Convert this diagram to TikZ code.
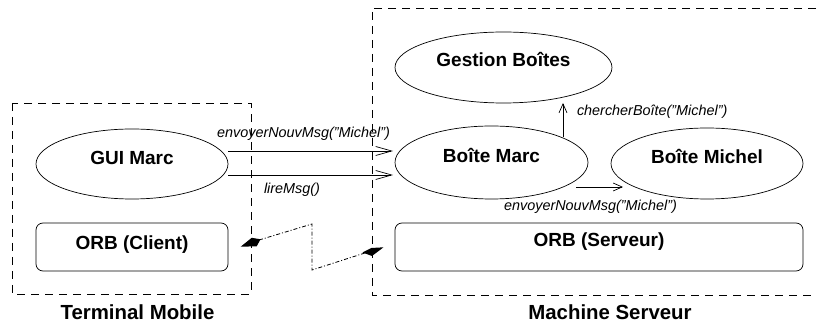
\documentclass[tikz,border=0pt]{standalone}
\usepackage{fontspec}
\setmainfont{Liberation Sans}
\usetikzlibrary{shapes.geometric,arrows.meta}
\newcommand\dq{\char34\relax}
\begin{document}
\begin{tikzpicture}[x=1pt,y=-1pt,
  every node/.style={inner sep=0pt,outer sep=0pt},
  comp/.style={draw,line width=0.7pt,ellipse,minimum width=#1,text height=13.6pt,font=\fontsize{19}{21}\selectfont\bfseries},
  orb/.style={draw,line width=0.7pt,rounded corners=7pt,minimum height=48pt,text height=13.6pt,font=\fontsize{19}{21}\selectfont\bfseries},
  zone/.style={draw,line width=0.7pt,dash pattern=on 8pt off 6pt},
  ztitle/.style={font=\fontsize{20.4}{22}\selectfont\bfseries},
  msg/.style={font=\fontsize{14.4}{16}\selectfont\itshape},
  call/.style={draw,line width=0.7pt},
  bigtip/.style={-{Straight Barb[length=16pt,width=9pt,line width=0.7pt]}},
  smalltip/.style={-{Straight Barb[length=9pt,width=8pt,line width=0.7pt]}},
  net/.style={draw,line width=0.8pt,dash pattern=on 4pt off 2pt on 1pt off 2pt}
]
\useasboundingbox (0,0) rectangle (817,328);
% zones
\draw[zone] (12,103) rectangle (251,294);
\draw[zone] (830,8) -- (372,8) -- (372,295) -- (830,295);
\node[ztitle] (tm) at (137.5,312.5) {Terminal Mobile};
\node[ztitle] (ms) at (610,312.5) {Machine Serveur};
% components
\node[comp=192pt,minimum height=70pt,text depth=13pt] (gui) at (132,164) {GUI Marc};
\node[orb,minimum width=192pt,text depth=9pt] (orbc) at (132,247) {ORB (Client)};
\node[comp=217pt,minimum height=71pt,text depth=15pt] (gest) at (503.5,67.5) {Gestion Boîtes};
\node[comp=193pt,minimum height=73pt,text depth=13pt] (bm) at (491.5,162.5) {Boîte Marc};
\node[comp=192pt,minimum height=71pt,text depth=14pt] (bmi) at (707,163.5) {Boîte Michel};
\node[orb,minimum width=408pt,text depth=14pt] (orbs) at (599,247) {ORB (Serveur)};
% messages
\draw[call,bigtip] (gui.east |- 0,151) -- (393,151) coordinate (e1);
\draw[call,bigtip] (gui.east |- 0,175) -- (393,175) coordinate (e2);
\node[msg] (m1) at (303.5,134) {envoyerNouvMsg(\dq Michel\dq)};
\node[msg] (m2) at (292,190) {lireMsg()};
\draw[call,smalltip] (563,137) -- (gest.south -| 563,0);
\node[msg,anchor=west] (m3) at (577,112) {chercherBoîte(\dq Michel\dq)};
\draw[call,smalltip] (576,187) -- (623,187) coordinate (e3);
\node[msg] (m4) at (590.5,207) {envoyerNouvMsg(\dq Michel\dq)};
% network link
\coordinate (n1) at (259,240);
\coordinate (n2) at (312,224);
\coordinate (n3) at (312,270);
\coordinate (n4) at (368,252);
\draw[net] (n1) -- (n2) -- (n3) -- (n4);
\fill (240.7,246.7) -- (251.7,237.8) -- (260.5,239.3) -- (256.7,246.3) -- cycle;
\fill (362.5,252.5) -- (371.5,248) -- (383.5,247.3) -- (372,256) -- cycle;
\end{tikzpicture}
\end{document}
